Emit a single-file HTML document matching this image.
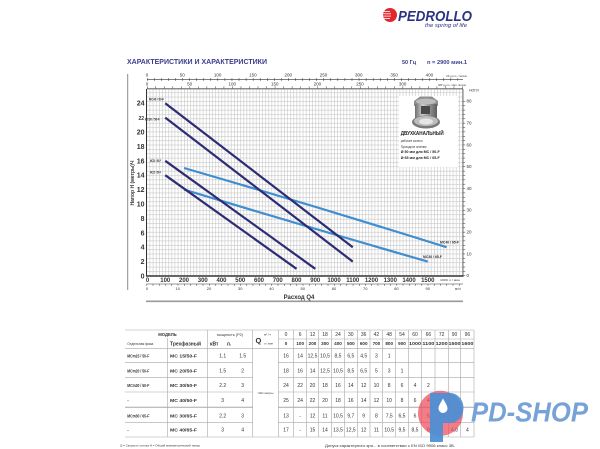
<!DOCTYPE html>
<html>
<head>
<meta charset="utf-8">
<style>
html,body{margin:0;padding:0;background:#fff;}
svg{display:block;}
text{font-family:"Liberation Sans","DejaVu Sans",sans-serif;}
</style>
</head>
<body>
<svg width="600" height="449" viewBox="0 0 600 449" xmlns="http://www.w3.org/2000/svg">
<defs>
  <pattern id="gv" x="146.5" y="0" width="3.125" height="10" patternUnits="userSpaceOnUse"><rect x="0" y="0" width="0.6" height="10" fill="#c6c6c6"/></pattern>
  <pattern id="gh" x="0" y="275.5" width="10" height="4.36" patternUnits="userSpaceOnUse"><rect x="0" y="0" width="10" height="0.6" fill="#c6c6c6"/></pattern>
  <pattern id="t1" x="147" y="0" width="7.06" height="10" patternUnits="userSpaceOnUse"><rect x="0" y="0" width="0.5" height="10" fill="#333"/></pattern>
  <pattern id="t2" x="147" y="0" width="8.52" height="10" patternUnits="userSpaceOnUse"><rect x="0" y="0" width="0.5" height="10" fill="#333"/></pattern>
  <pattern id="t3" x="146.5" y="0" width="6.25" height="10" patternUnits="userSpaceOnUse"><rect x="0" y="0" width="0.5" height="10" fill="#333"/></pattern>
  <pattern id="t4" x="0" y="275.5" width="10" height="4.36" patternUnits="userSpaceOnUse"><rect x="0" y="0" width="10" height="0.5" fill="#333"/></pattern>
  <linearGradient id="metal" x1="0" y1="0" x2="1" y2="0">
    <stop offset="0" stop-color="#6e6e6e"/><stop offset="0.35" stop-color="#cfcfcf"/><stop offset="0.7" stop-color="#8c8c8c"/><stop offset="1" stop-color="#5e5e5e"/>
  </linearGradient>
</defs>

<!-- Logo -->
<circle cx="390" cy="15" r="7" fill="#e2262e"/>
<g stroke="#fff" stroke-width="0.8">
  <line x1="383" y1="11.5" x2="390" y2="11.5"/>
  <line x1="383" y1="13.8" x2="391" y2="13.8"/>
  <line x1="383" y1="16.1" x2="391" y2="16.1"/>
  <line x1="383.5" y1="18.4" x2="390" y2="18.4"/>
</g>
<text x="398" y="21" font-size="15" font-weight="bold" font-style="italic" fill="#2b3384" textLength="74" lengthAdjust="spacingAndGlyphs">PEDROLLO</text>
<text x="425" y="27" font-size="5.5" font-style="italic" fill="#2b3384" textLength="42" lengthAdjust="spacingAndGlyphs">the spring of life</text>

<!-- Title -->
<text x="127" y="64.2" font-size="7.5" font-weight="bold" fill="#3c3d8e" textLength="140" lengthAdjust="spacingAndGlyphs">ХАРАКТЕРИСТИКИ И ХАРАКТЕРИСТИКИ</text>
<text x="402" y="63.8" font-size="5.5" font-weight="bold" fill="#3c3d8e">50 Гц</text>
<text x="427" y="63.8" font-size="5.5" font-weight="bold" fill="#3c3d8e" textLength="40" lengthAdjust="spacingAndGlyphs">n = 2900 мин.1</text>

<!-- left grey line -->
<line x1="127.7" y1="74" x2="127.7" y2="290" stroke="#8a8a8a" stroke-width="1"/>

<!-- Top axis 1 (US gpm) -->
<line x1="147" y1="79.3" x2="463" y2="79.3" stroke="#333" stroke-width="0.6"/>
<rect x="147" y="78" width="311" height="3" fill="url(#t1)"/>
<g font-size="4.5" fill="#333" text-anchor="middle">
  <text x="147" y="76.5">0</text><text x="182.3" y="76.5">50</text><text x="217.6" y="76.5">100</text>
  <text x="252.9" y="76.5">150</text><text x="288.2" y="76.5">200</text><text x="323.5" y="76.5">250</text>
  <text x="358.8" y="76.5">300</text><text x="394.1" y="76.5">350</text><text x="429.4" y="76.5">400</text>
</g>
<text x="446" y="77" font-size="2.6" fill="#333" textLength="21" lengthAdjust="spacingAndGlyphs">US g.p.m. / галлон</text>

<!-- Top axis 2 (IMP gpm) -->
<line x1="147" y1="88.5" x2="463" y2="88.5" stroke="#333" stroke-width="0.6"/>
<rect x="147" y="86.3" width="316" height="2.2" fill="url(#t2)"/>
<g font-size="4.5" fill="#333" text-anchor="middle">
  <text x="147" y="85.3">0</text><text x="189.6" y="85.3">50</text><text x="232.2" y="85.3">100</text>
  <text x="274.8" y="85.3">150</text><text x="317.4" y="85.3">200</text><text x="360" y="85.3">250</text>
  <text x="402.6" y="85.3">300</text>
</g>
<text x="438" y="85.8" font-size="2.6" fill="#333" textLength="28" lengthAdjust="spacingAndGlyphs">IMP g.p.m. / имп. галлон</text>

<!-- Plot grid -->
<rect x="146.5" y="89" width="316.5" height="187" fill="#fff"/>
<rect x="146.5" y="89" width="316.5" height="187" fill="url(#gv)"/>
<rect x="146.5" y="89" width="316.5" height="187" fill="url(#gh)"/>
<line x1="146.5" y1="89" x2="463" y2="89" stroke="#777" stroke-width="0.8"/>
<line x1="463" y1="89" x2="463" y2="276" stroke="#555" stroke-width="0.8"/>
<line x1="146.5" y1="89" x2="146.5" y2="276.5" stroke="#333" stroke-width="1"/>
<line x1="146" y1="276" x2="463.5" y2="276" stroke="#333" stroke-width="1.5"/>

<!-- Right axis (feet) -->
<rect x="463" y="100" width="2.2" height="176" fill="url(#t4)"/>
<g font-size="4.5" fill="#333">
  <text x="466.5" y="277">0</text><text x="466.5" y="255.3">10</text><text x="466.5" y="233.5">20</text>
  <text x="466.5" y="211.7">30</text><text x="466.5" y="189.9">40</text><text x="466.5" y="168.1">50</text>
  <text x="466.5" y="146.3">60</text><text x="466.5" y="124.5">70</text><text x="466.5" y="102.7">80</text>
</g>
<text x="469" y="91.3" font-size="3.5" fill="#333">НОГИ</text>

<!-- Y labels -->
<g font-size="7" font-weight="bold" fill="#333" text-anchor="end">
  <text x="144.5" y="278.5">0</text><text x="144.5" y="264.1">2</text><text x="144.5" y="249.7">4</text>
  <text x="144.5" y="235.3">6</text><text x="144.5" y="220.9">8</text><text x="144.5" y="206.5">10</text>
  <text x="144.5" y="192.1">12</text><text x="144.5" y="177.7">14</text><text x="144.5" y="163.3">16</text>
  <text x="144.5" y="148.9">18</text><text x="144.5" y="134.5">20</text><text x="144" y="120.1" font-size="5">22</text>
  <text x="144.5" y="105.7">24</text>
</g>
<text transform="translate(134,183) rotate(-90)" text-anchor="middle" font-size="5" font-weight="bold" fill="#333">Напор Н (метры)Ч</text>

<!-- X labels -->
<g font-size="6" font-weight="bold" fill="#333" text-anchor="middle">
  <text x="147.5" y="281.8">0</text><text x="165.25" y="281.8">100</text><text x="184" y="281.8">200</text>
  <text x="202.75" y="281.8">300</text><text x="221.5" y="281.8">400</text><text x="240.25" y="281.8">500</text>
  <text x="259" y="281.8">600</text><text x="277.75" y="281.8">700</text><text x="296.5" y="281.8">800</text>
  <text x="315.25" y="281.8">900</text><text x="334" y="281.8">1000</text><text x="352.75" y="281.8">1100</text>
  <text x="371.5" y="281.8">1200</text><text x="390.25" y="281.8">1300</text><text x="409" y="281.8">1400</text>
  <text x="427.75" y="281.8">1500</text>
</g>
<text x="440" y="281" font-size="3" fill="#333" textLength="20" lengthAdjust="spacingAndGlyphs">1600 л / мин</text>

<!-- bottom m3/h axis -->
<line x1="146.5" y1="284" x2="463" y2="284" stroke="#333" stroke-width="0.6"/>
<rect x="146.5" y="284" width="316" height="1.8" fill="url(#t3)"/>
<g font-size="4" fill="#333" text-anchor="middle">
  <text x="147" y="290">0</text><text x="177.75" y="290">10</text><text x="209" y="290">20</text>
  <text x="240.25" y="290">30</text><text x="271.5" y="290">40</text><text x="302.75" y="290">50</text>
  <text x="334" y="290">60</text><text x="365.25" y="290">70</text><text x="396.5" y="290">80</text>
  <text x="427.75" y="290">90</text>
</g>
<text x="455" y="290" font-size="3.2" fill="#333">м³/ч</text>
<text x="299" y="299" text-anchor="middle" font-size="6" font-weight="bold" fill="#333">Расход Q4</text>
<line x1="146" y1="301.3" x2="463" y2="301.3" stroke="#9a9a9a" stroke-width="1.6"/>

<!-- Impeller info box -->
<rect x="399" y="96" width="59" height="71" fill="#fff"/>
<path d="M414,101 L420,96.5 L432,96.5 L438,101 L438,106 L414,106 Z" fill="#8e8e8e"/>
<ellipse cx="426" cy="101.5" rx="10" ry="3" fill="#bdbdbd"/>
<rect x="415" y="104" width="22" height="15" fill="url(#metal)"/>
<rect x="421" y="106" width="9" height="8" fill="#4a4a4a"/>
<ellipse cx="426" cy="122" rx="14" ry="6.5" fill="#7a7a7a"/>
<ellipse cx="426" cy="121" rx="12" ry="5" fill="#bdbdbd"/>
<ellipse cx="426" cy="121.5" rx="7" ry="3" fill="#e6e6e6"/>
<text x="400.7" y="134.8" font-size="5.5" font-weight="bold" fill="#222" textLength="43" lengthAdjust="spacingAndGlyphs">ДВУХКАНАЛЬНЫЙ</text>
<text x="400.7" y="142.2" font-size="3.3" fill="#333" textLength="22" lengthAdjust="spacingAndGlyphs">рабочее колесо</text>
<text x="400.7" y="148" font-size="3.3" fill="#333" textLength="26" lengthAdjust="spacingAndGlyphs">Проходное сечение</text>
<text x="400.7" y="153" font-size="3.8" font-weight="bold" fill="#222" textLength="39" lengthAdjust="spacingAndGlyphs">Ø 50 мм для MC / 50-F</text>
<text x="400.7" y="159" font-size="3.8" font-weight="bold" fill="#222" textLength="39" lengthAdjust="spacingAndGlyphs">Ø 65 мм для MC / 65-F</text>

<!-- Curves -->
<g fill="none" stroke-linecap="butt" stroke-linejoin="round" stroke-width="2.2">
  <path stroke="#3e8ed0" d="M184,168 Q315,206 446.5,247.2"/>
  <path stroke="#3e8ed0" d="M184,189.6 Q306,226.5 427.75,261.6"/>
  <line stroke="#2d2c73" x1="165.25" y1="103.2" x2="352.75" y2="247.2"/>
  <line stroke="#2d2c73" x1="165.25" y1="117.6" x2="352.75" y2="261.6"/>
  <line stroke="#2d2c73" x1="165.25" y1="160.8" x2="315.25" y2="268.8"/>
  <line stroke="#2d2c73" x1="165.25" y1="175.2" x2="296.5" y2="268.8"/>
</g>

<!-- Curve labels -->
<g font-size="3.5" font-weight="bold" fill="#333">
  <text x="149" y="100.6" textLength="15" lengthAdjust="spacingAndGlyphs">MC40 / 50-F</text>
  <text x="144.7" y="120.6" textLength="15" lengthAdjust="spacingAndGlyphs">MC30 / 50-F</text>
  <text x="150" y="162" textLength="11" lengthAdjust="spacingAndGlyphs">MC20 / 50-F</text>
  <text x="150" y="173.5" textLength="11" lengthAdjust="spacingAndGlyphs">MC15 / 50-F</text>
  <text x="440" y="243.5" textLength="19" lengthAdjust="spacingAndGlyphs">MC40 / 65-F</text>
  <text x="423" y="257.8" textLength="19" lengthAdjust="spacingAndGlyphs">MC30 / 65-F</text>
</g>

<!-- Table lines -->
<g stroke="#a8a8a8" stroke-width="0.6">
  <line x1="125" y1="330" x2="474" y2="330"/>
  <line x1="278.3" y1="339" x2="474" y2="339"/>
  <line x1="125" y1="348.3" x2="474" y2="348.3"/>
  <line x1="125" y1="362.7" x2="252.7" y2="362.7"/><line x1="278.3" y1="362.7" x2="474" y2="362.7"/>
  <line x1="125" y1="377.3" x2="252.7" y2="377.3"/><line x1="278.3" y1="377.3" x2="474" y2="377.3"/>
  <line x1="125" y1="392" x2="252.7" y2="392"/><line x1="278.3" y1="392" x2="474" y2="392"/>
  <line x1="125" y1="407.3" x2="252.7" y2="407.3" stroke-width="1"/><line x1="278.3" y1="407.3" x2="474" y2="407.3" stroke-width="1"/>
  <line x1="125" y1="422.7" x2="252.7" y2="422.7"/><line x1="278.3" y1="422.7" x2="474" y2="422.7"/>
  <line x1="125" y1="437" x2="474" y2="437"/>
  <line x1="167.3" y1="338" x2="167.3" y2="437"/>
  <line x1="207.7" y1="330" x2="207.7" y2="437"/>
  <line x1="252.7" y1="330" x2="252.7" y2="437"/>
  <line x1="278.3" y1="330" x2="278.3" y2="437"/>
  <line x1="293.7" y1="330" x2="293.7" y2="437"/>
  <line x1="306.7" y1="330" x2="306.7" y2="437"/>
  <line x1="318.3" y1="330" x2="318.3" y2="437"/>
  <line x1="331.7" y1="330" x2="331.7" y2="437"/>
  <line x1="344.3" y1="330" x2="344.3" y2="437"/>
  <line x1="357.3" y1="330" x2="357.3" y2="437"/>
  <line x1="370" y1="330" x2="370" y2="437"/>
  <line x1="382.7" y1="330" x2="382.7" y2="437"/>
  <line x1="395.7" y1="330" x2="395.7" y2="437"/>
  <line x1="408.3" y1="330" x2="408.3" y2="437"/>
  <line x1="421.7" y1="330" x2="421.7" y2="437"/>
  <line x1="435" y1="330" x2="435" y2="437"/>
  <line x1="448.3" y1="330" x2="448.3" y2="437"/>
  <line x1="460.7" y1="330" x2="460.7" y2="437"/>
  <line x1="474" y1="330" x2="474" y2="437"/>
</g>

<!-- Table header -->
<text x="167.5" y="336" text-anchor="middle" font-size="4.2" font-weight="bold" fill="#333">МОДЕЛЬ</text>
<text x="127.3" y="345" font-size="3.6" fill="#333" textLength="26" lengthAdjust="spacingAndGlyphs">Отдельная фаза</text>
<text x="170" y="345.3" font-size="5" font-weight="bold" fill="#333" textLength="31" lengthAdjust="spacingAndGlyphs">Трехфазный</text>
<text x="230" y="336" text-anchor="middle" font-size="3.6" fill="#333" textLength="26" lengthAdjust="spacingAndGlyphs">мощность (P2)</text>
<text x="210" y="345.3" font-size="5" font-weight="bold" fill="#333">кВт</text>
<text x="226.7" y="345.3" font-size="5" font-weight="bold" fill="#333">л.</text>
<text x="255.5" y="343" font-size="7.5" font-weight="bold" fill="#333">Q</text>
<text x="264" y="335.5" font-size="3" fill="#333">м³ / ч</text>
<text x="264" y="344.5" font-size="2.8" fill="#333">л / мин</text>
<text x="265.5" y="394" text-anchor="middle" font-size="3" fill="#333">ЧАС метры</text>

<g font-size="5" fill="#333" text-anchor="middle">
  <text x="286" y="335.8">0</text><text x="300.2" y="335.8">6</text><text x="312.5" y="335.8">12</text>
  <text x="325" y="335.8">18</text><text x="338" y="335.8">24</text><text x="350.8" y="335.8">30</text>
  <text x="363.7" y="335.8">36</text><text x="376.4" y="335.8">42</text><text x="389.2" y="335.8">48</text>
  <text x="402" y="335.8">54</text><text x="415" y="335.8">60</text><text x="428.4" y="335.8">66</text>
  <text x="441.7" y="335.8">72</text><text x="454.5" y="335.8">90</text><text x="467.4" y="335.8">96</text>
</g>
<g font-size="4.6" font-weight="bold" fill="#333" text-anchor="middle">
  <text x="286" y="345.2">0</text><text x="300.2" y="345.2">100</text><text x="312.5" y="345.2">200</text>
  <text x="325" y="345.2">300</text><text x="338" y="345.2">400</text><text x="350.8" y="345.2">500</text>
  <text x="363.7" y="345.2">600</text><text x="376.4" y="345.2">700</text><text x="389.2" y="345.2">800</text>
  <text x="402" y="345.2">900</text><text x="415" y="345.2" textLength="12" lengthAdjust="spacingAndGlyphs">1000</text><text x="428.4" y="345.2" textLength="12" lengthAdjust="spacingAndGlyphs">1100</text>
  <text x="441.7" y="345.2" textLength="12" lengthAdjust="spacingAndGlyphs">1200</text><text x="454.5" y="345.2" textLength="12" lengthAdjust="spacingAndGlyphs">1500</text><text x="467.4" y="345.2" textLength="12" lengthAdjust="spacingAndGlyphs">1600</text>
</g>

<!-- Model names -->
<g font-size="4.6" font-weight="bold" fill="#333">
  <text x="127.3" y="357.3" textLength="22" lengthAdjust="spacingAndGlyphs">MCm15 / 50-F</text>
  <text x="127.3" y="372.3" textLength="22" lengthAdjust="spacingAndGlyphs">MCm20 / 50-F</text>
  <text x="127.3" y="387" textLength="22" lengthAdjust="spacingAndGlyphs">MCm30 / 50-F</text>
  <text x="127.3" y="401.8">-</text>
  <text x="127.3" y="417.3" textLength="22" lengthAdjust="spacingAndGlyphs">MCm30 / 65-F</text>
  <text x="127.3" y="431.7">-</text>
  <text x="170" y="357.3" textLength="27" lengthAdjust="spacingAndGlyphs">MC 15/50-F</text>
  <text x="170" y="372.3" textLength="27" lengthAdjust="spacingAndGlyphs">MC 20/50-F</text>
  <text x="170" y="387" textLength="27" lengthAdjust="spacingAndGlyphs">MC 30/50-F</text>
  <text x="170" y="401.8" textLength="27" lengthAdjust="spacingAndGlyphs">MC 40/50-F</text>
  <text x="170" y="417.3" textLength="27" lengthAdjust="spacingAndGlyphs">MC 30/65-F</text>
  <text x="170" y="431.7" textLength="27" lengthAdjust="spacingAndGlyphs">MC 40/65-F</text>
</g>
<g font-size="5" fill="#333" text-anchor="middle">
  <text x="222.7" y="357.3">1.1</text><text x="242.7" y="357.3">1.5</text>
  <text x="222.7" y="372.3">1.5</text><text x="242.7" y="372.3">2</text>
  <text x="222.7" y="387">2.2</text><text x="242.7" y="387">3</text>
  <text x="222.7" y="401.8">3</text><text x="242.7" y="401.8">4</text>
  <text x="222.7" y="417.3">2.2</text><text x="242.7" y="417.3">3</text>
  <text x="222.7" y="431.7">3</text><text x="242.7" y="431.7">4</text>
</g>

<!-- Data values -->
<g font-size="5" fill="#333" text-anchor="middle">
  <text x="286" y="357.3">16</text><text x="300.2" y="357.3">14</text><text x="312.5" y="357.3">12,5</text>
  <text x="325" y="357.3">10,5</text><text x="338" y="357.3">8,5</text><text x="350.8" y="357.3">6,5</text>
  <text x="363.7" y="357.3">4,5</text><text x="376.4" y="357.3">3</text><text x="389.2" y="357.3">1</text>

  <text x="286" y="372.3">18</text><text x="300.2" y="372.3">16</text><text x="312.5" y="372.3">14</text>
  <text x="325" y="372.3">12,5</text><text x="338" y="372.3">10,5</text><text x="350.8" y="372.3">8,5</text>
  <text x="363.7" y="372.3">6,5</text><text x="376.4" y="372.3">5</text><text x="389.2" y="372.3">3</text>
  <text x="402" y="372.3">1</text>

  <text x="286" y="387">24</text><text x="300.2" y="387">22</text><text x="312.5" y="387">20</text>
  <text x="325" y="387">18</text><text x="338" y="387">16</text><text x="350.8" y="387">14</text>
  <text x="363.7" y="387">12</text><text x="376.4" y="387">10</text><text x="389.2" y="387">8</text>
  <text x="402" y="387">6</text><text x="415" y="387">4</text><text x="428.4" y="387">2</text>

  <text x="286" y="401.8">25</text><text x="300.2" y="401.8">24</text><text x="312.5" y="401.8">22</text>
  <text x="325" y="401.8">20</text><text x="338" y="401.8">18</text><text x="350.8" y="401.8">16</text>
  <text x="363.7" y="401.8">14</text><text x="376.4" y="401.8">12</text><text x="389.2" y="401.8">10</text>
  <text x="402" y="401.8">8</text><text x="415" y="401.8">6</text><text x="428.4" y="401.8">4</text>

  <text x="286" y="417.3">13</text><text x="300.2" y="417.3">-</text><text x="312.5" y="417.3">12</text>
  <text x="325" y="417.3">11</text><text x="338" y="417.3">10,5</text><text x="350.8" y="417.3">9,7</text>
  <text x="363.7" y="417.3">9</text><text x="376.4" y="417.3">8</text><text x="389.2" y="417.3">7,5</text>
  <text x="402" y="417.3">6,5</text><text x="415" y="417.3">6</text><text x="428.4" y="417.3">5</text>
  <text x="441.7" y="417.3">4,5</text><text x="454.5" y="417.3">2</text>

  <text x="286" y="431.7">17</text><text x="300.2" y="431.7">-</text><text x="312.5" y="431.7">15</text>
  <text x="325" y="431.7">14</text><text x="338" y="431.7">13,5</text><text x="350.8" y="431.7">12,5</text>
  <text x="363.7" y="431.7">12</text><text x="376.4" y="431.7">11</text><text x="389.2" y="431.7">10,5</text>
  <text x="402" y="431.7">9,5</text><text x="415" y="431.7">8,5</text><text x="428.4" y="431.7">8</text>
  <text x="441.7" y="431.7">7</text><text x="454.5" y="431.7">4,8</text><text x="467.4" y="431.7">4</text>
</g>

<!-- Footer -->
<text x="120" y="446.5" font-size="2.6" fill="#333" textLength="80" lengthAdjust="spacingAndGlyphs">Q = Скорость потока H = Общий манометрический напор</text>
<text x="325" y="447" font-size="3.4" fill="#333" textLength="130" lengthAdjust="spacingAndGlyphs">Допуск характерного кри...      в соответствии с EN ISO 9906 класс 3B.</text>

<!-- Watermark -->
<circle cx="440.5" cy="413.3" r="22.5" fill="#ee4a5c" opacity="0.72"/>
<path d="M430,393 H450 A13.5,15 0 0 1 450,423 H443 V442 H430 Z" fill="#4a8fd6" opacity="0.92"/>
<path d="M443,398.5 C440.5,403 438.5,406 438.5,408.5 A4.5,4.5 0 0 0 447.5,408.5 C447.5,406 445.5,403 443,398.5 Z" fill="#fff"/>
<text x="471" y="421.7" font-size="28" font-weight="bold" font-style="italic" fill="#76a2d8" textLength="117" lengthAdjust="spacingAndGlyphs">PD-SHOP</text>
</svg>
</body>
</html>
